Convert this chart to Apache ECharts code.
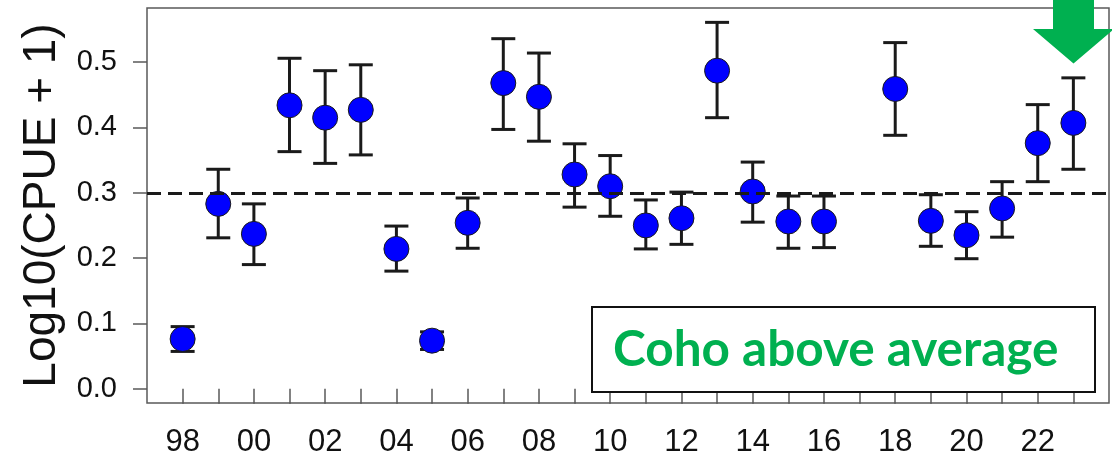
<!DOCTYPE html>
<html>
<head>
<meta charset="utf-8">
<script src="https://cdn.jsdelivr.net/npm/echarts@6/dist/echarts.min.js"></script>
<style>
html,body{margin:0;padding:0;background:#fff;}
#chart{width:1112px;height:458px;}
</style>
</head>
<body>
<div id="chart"></div>
<script>
// Data
const years = [1998,1999,2000,2001,2002,2003,2004,2005,2006,2007,2008,2009,2010,2011,2012,2013,2014,2015,2016,2018,2019,2020,2021,2022,2023];
const means = [0.076,0.283,0.237,0.434,0.415,0.427,0.214,0.0735,0.254,0.468,0.447,0.328,0.310,0.250,0.261,0.487,0.302,0.256,0.256,0.459,0.257,0.235,0.276,0.376,0.407];
const upper = [0.095,0.336,0.283,0.506,0.487,0.496,0.249,0.087,0.292,0.536,0.514,0.375,0.357,0.289,0.301,0.561,0.347,0.295,0.295,0.530,0.297,0.271,0.317,0.435,0.476];
const lower = [0.057,0.231,0.190,0.363,0.345,0.358,0.180,0.060,0.215,0.397,0.379,0.278,0.264,0.214,0.221,0.415,0.255,0.215,0.216,0.388,0.218,0.199,0.232,0.317,0.336];
const averageLine = 0.303;
const xTickYears = [1998,1999,2000,2001,2002,2003,2004,2005,2006,2007,2008,2009,2010,2011,2012,2013,2014,2015,2016,2017,2018,2019,2020,2021,2022,2023];
const xLabelYears = [1998,2000,2002,2004,2006,2008,2010,2012,2014,2016,2018,2020,2022];
const yTicks = [0,0.1,0.2,0.3,0.4,0.5];
const yTitle = 'Log10(CPUE + 1)';
const boxText = 'Coho above average';

const chart = echarts.init(document.getElementById('chart'), null, {renderer:'canvas'});
const errData = years.map((y,i)=>[y, lower[i], upper[i]]);
const ptData = years.map((y,i)=>[y, means[i]]);
const green = '#00B050';
const FONT = '"Liberation Sans", Arial, sans-serif';

chart.setOption({
  animation:false,
  grid:{left:147, right:3, top:8, bottom:55, show:true, borderColor:'#5a5a5a', borderWidth:1.5, backgroundColor:'transparent',
        containLabel:false, outerBoundsMode:'none'},
  xAxis:{
    type:'value', min:1997, max:2024,
    splitLine:{show:false},
    axisLine:{show:false},
    axisTick:{show:true, length:15, inside:false, lineStyle:{color:'#5a5a5a', width:1.5}, customValues:xTickYears},
    axisLabel:{show:true, customValues:xLabelYears, margin:24, fontFamily:FONT, fontSize:31, color:'#111',
      formatter:v=>String(v).slice(2)}
  },
  yAxis:{
    type:'value', min:-0.022, max:0.583,
    splitLine:{show:false},
    axisLine:{show:false},
    axisTick:{show:true, length:14, lineStyle:{color:'#5a5a5a', width:1.5}, customValues:yTicks},
    axisLabel:{show:true, customValues:yTicks, margin:30, fontFamily:FONT, fontSize:29, color:'#111',
      formatter:v=>v.toFixed(1)},
    name:yTitle, nameLocation:'middle', nameGap:70, nameRotate:90,
    nameTextStyle:{fontFamily:FONT, fontSize:46, color:'#111'}
  },
  series:[
    {
      type:'custom', data:errData, z:2,
      renderItem:(params, api)=>{
        const x = api.value(0);
        const lo = api.coord([x, api.value(1)]);
        const hi = api.coord([x, api.value(2)]);
        const hw = 12;
        const st = {stroke:'#1a1a1a', lineWidth:3};
        return {type:'group', children:[
          {type:'line', shape:{x1:lo[0], y1:lo[1], x2:hi[0], y2:hi[1]}, style:st},
          {type:'line', shape:{x1:lo[0]-hw, y1:lo[1], x2:lo[0]+hw, y2:lo[1]}, style:st},
          {type:'line', shape:{x1:hi[0]-hw, y1:hi[1], x2:hi[0]+hw, y2:hi[1]}, style:st}
        ]};
      }
    },
    {
      type:'scatter', data:ptData, z:3, symbol:'circle', symbolSize:25,
      itemStyle:{color:'#0000FF', borderColor:'#1a1a1a', borderWidth:1, opacity:1},
      markLine:{
        silent:true, symbol:['none','none'], label:{show:false},
        lineStyle:{color:'#1a1a1a', type:[14,7], width:3},
        data:[{yAxis:averageLine}]
      }
    }
  ],
  graphic:[
    {type:'rect', shape:{x:592, y:307, width:503, height:85}, style:{fill:'#fff', stroke:'#111', lineWidth:2}, z:10},
    {type:'text', x:613, y:350, style:{text:boxText, font:'bold 49.5px Lato, "Open Sans", sans-serif', fill:green, verticalAlign:'middle', align:'left'}, z:11},
    {type:'polygon', shape:{points:[[1053,0],[1094,0],[1094,29],[1114,29],[1073.5,63.5],[1033,29],[1053,29]]}, style:{fill:green}, z:12}
  ]
});
</script>
</body>
</html>
